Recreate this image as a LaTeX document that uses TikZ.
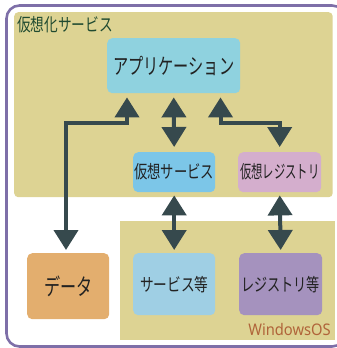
\documentclass[tikz,border=0pt]{standalone}
\usepackage{graphicx}
\usepackage{fontspec}
\setmainfont{Noto Sans CJK JP}
\newfontfamily\latinf{Noto Sans}
\usetikzlibrary{arrows.meta}
\definecolor{ybg}{HTML}{DDD393}
\definecolor{appc}{HTML}{8FD2DF}
\definecolor{vsc}{HTML}{7CC6E8}
\definecolor{vrc}{HTML}{D4AECD}
\definecolor{datac}{HTML}{E3AE6E}
\definecolor{svc}{HTML}{9FCFE4}
\definecolor{regc}{HTML}{A592BE}
\definecolor{arrc}{HTML}{36494D}
\definecolor{framec}{HTML}{7E6FA8}
\definecolor{titlec}{HTML}{1F4A30}
\definecolor{osc}{HTML}{B0643A}
\definecolor{txtc}{HTML}{222222}
\tikzset{
  boxn/.style={rounded corners=5pt,inner sep=0pt,anchor=north west,text=txtc,align=center},
  conn/.style={draw=arrc,line width=4pt,line join=miter},
  both/.style={conn,{Triangle[width=24pt,length=20pt]}-{Triangle[width=24pt,length=20pt]}},
}
\newcommand{\jt}[3]{\scalebox{#2}[1]{\fontsize{#1}{#1}\selectfont #3}}
\begin{document}
\begin{tikzpicture}[x=1pt,y=-1pt]
\useasboundingbox (0,0) rectangle (337,348);
\begin{scope}
\clip (0,0) rectangle (337,348);
\draw[framec,line width=2.6pt,rounded corners=13pt] (6.5,5.5) rectangle (345,346.5);
\end{scope}
\node[boxn,fill=ybg,rounded corners=4pt,minimum width=318.5pt,minimum height=185pt] (virt) at (14,12) {};
\fill[ybg] (120,221) rectangle (335,340);
\coordinate (os) at (120,221);
\node[boxn,fill=appc,minimum width=133pt,minimum height=55pt] (app) at (107,38) {\jt{22}{0.69}{アプリケーション}};
\node[boxn,fill=vsc,minimum width=82pt,minimum height=40pt] (vs) at (133,152) {\jt{18}{0.74}{仮想サービス}};
\node[boxn,fill=vrc,minimum width=83pt,minimum height=40pt] (vr) at (238,152) {\jt{18}{0.63}{仮想レジストリ}};
\node[boxn,fill=datac,minimum width=82pt,minimum height=66pt] (data) at (27,253) {\jt{23}{0.7}{データ}};
\node[boxn,fill=svc,minimum width=82pt,minimum height=62pt] (sv) at (133,253) {\jt{18}{0.76}{サービス等}};
\node[boxn,fill=regc,minimum width=83pt,minimum height=62pt] (reg) at (239,253) {\jt{18}{0.73}{レジストリ等}};
\node[anchor=west,inner sep=0pt,text=titlec] (t1) at (17,25) {\jt{18}{0.76}{仮想化サービス}};
\node[anchor=east,inner sep=0pt,text=osc] (t2) at (331,329) {\latinf\jt{16}{0.92}{WindowsOS}};
% connectors
\coordinate (a1) at (app.south -| 127,0);
\coordinate (a2) at (app.south -| 220.5,0);
\coordinate (d1) at (data.north);
\draw[both,shorten <=4pt,shorten >=3pt] (a1) |- (66,123) -- (66,253);
\draw[both,shorten <=4pt,shorten >=5pt] (app.south) -- (vs.north);
\draw[both,shorten <=4pt,shorten >=5pt] (a2) |- (vr.north |- 0,123) -- (vr.north);
\draw[both,shorten <=3pt,shorten >=3pt] (vs.south) -- (sv.north);
\draw[both,shorten <=3pt,shorten >=3pt] (vr.south) -- (reg.north);
\end{tikzpicture}
\end{document}
